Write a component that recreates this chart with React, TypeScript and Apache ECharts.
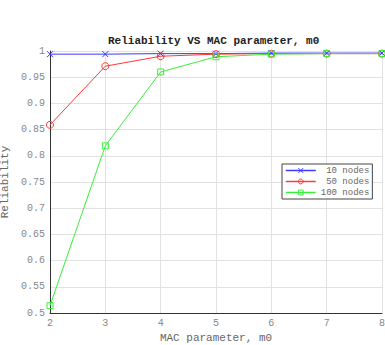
import React, { useEffect, useRef } from "react";
import * as echarts from "echarts";

const xValues = [2, 3, 4, 5, 6, 7, 8];
const nodes10 = [0.994, 0.994, 0.995, 0.995, 0.996, 0.996, 0.996];
const nodes50 = [0.859, 0.971, 0.990, 0.994, 0.995, 0.995, 0.995];
const nodes100 = [0.514, 0.819, 0.960, 0.989, 0.994, 0.995, 0.995];
const seriesNames = ["10 nodes", "50 nodes", "100 nodes"];
const yTicks = [0.5, 0.55, 0.6, 0.65, 0.7, 0.75, 0.8, 0.85, 0.9, 0.95, 1];

const mono = "Liberation Mono";
const crossPath = "path://M0,0L10,10M10,0L0,10";
const circlePath = "path://M5,0A5,5 0 1,1 4.99,0Z";
const squarePath = "path://M0,0L10,0L10,10L0,10Z";

export default function App() {
  const ref = useRef<HTMLDivElement>(null);
  useEffect(() => {
    if (!ref.current) return;
    const chart = echarts.init(ref.current, null, { renderer: "svg" });
    const mk = (name: string, vals: number[], color: string, symbol: string, size: number) => ({
      name,
      type: "line",
      data: xValues.map((x, i) => [x, vals[i]]),
      symbol,
      symbolSize: size,
      showAllSymbol: true,
      lineStyle: { color, width: 1 },
      itemStyle: { color: "none", borderColor: color, borderWidth: 1 },
      emphasis: { disabled: true },
    });
    chart.setOption({
      animation: false,
      backgroundColor: "#fff",
      title: {
        text: "Reliability VS MAC parameter, m0",
        left: 108,
        top: 35,
        padding: 0,
        textStyle: { fontFamily: mono, fontSize: 11, fontWeight: "bold", color: "#222" },
      },
      grid: { left: 50, right: 3, top: 51, bottom: 32, outerBoundsMode: "none", containLabel: false },
      xAxis: {
        type: "value",
        min: 2,
        max: 8,
        interval: 1,
        name: "MAC parameter, m0",
        nameLocation: "middle",
        nameGap: 19,
        nameTextStyle: { fontFamily: mono, fontSize: 11, color: "#666" },
        axisLine: { show: true, lineStyle: { color: "#333", width: 1 } },
        axisTick: { show: false },
        axisLabel: { fontFamily: mono, fontSize: 10, color: "#888", margin: 5, showMaxLabel: true, showMinLabel: true, hideOverlap: false },
        splitLine: { show: true, lineStyle: { color: "#e2e2e2", width: 1 } },
      },
      yAxis: {
        type: "value",
        min: 0.5,
        max: 1,
        interval: 0.05,
        name: "Reliability",
        nameLocation: "middle",
        nameGap: 31,
        nameTextStyle: { fontFamily: mono, fontSize: 11, color: "#666" },
        axisLine: { show: true, lineStyle: { color: "#333", width: 1 } },
        axisTick: { show: false },
        axisLabel: {
          fontFamily: mono,
          fontSize: 10,
          color: "#888",
          margin: 5,
          formatter: (v: number) => {
            const t = yTicks.find((y) => Math.abs(y - v) < 1e-6);
            return t === undefined ? "" : String(+t.toFixed(2));
          },
        },
        splitLine: { show: true, lineStyle: { color: "#e2e2e2", width: 1 } },
      },
      legend: {
        left: 282,
        top: 164,
        orient: "vertical",
        backgroundColor: "#fff",
        borderColor: "#444",
        borderWidth: 1,
        borderRadius: 0,
        padding: [1, 3, 1, 3],
        itemWidth: 30,
        itemHeight: 6,
        itemGap: 0,
        itemStyle: { borderWidth: 1 },
        lineStyle: { width: 1.5 },
        textStyle: { fontFamily: mono, fontSize: 9, color: "#666", lineHeight: 11 },
        formatter: (n: string) => n.padStart(9, " "),
        data: seriesNames,
      },
      series: [
        mk(seriesNames[0], nodes10, "#3838ff", crossPath, 6),
        mk(seriesNames[1], nodes50, "#ff3838", circlePath, 7),
        mk(seriesNames[2], nodes100, "#38f038", squarePath, 6),
      ],
    });
    return () => chart.dispose();
  }, []);
  return <div ref={ref} style={{ position: "absolute", left: 0, top: 0, width: 385, height: 345 }} />;
}
